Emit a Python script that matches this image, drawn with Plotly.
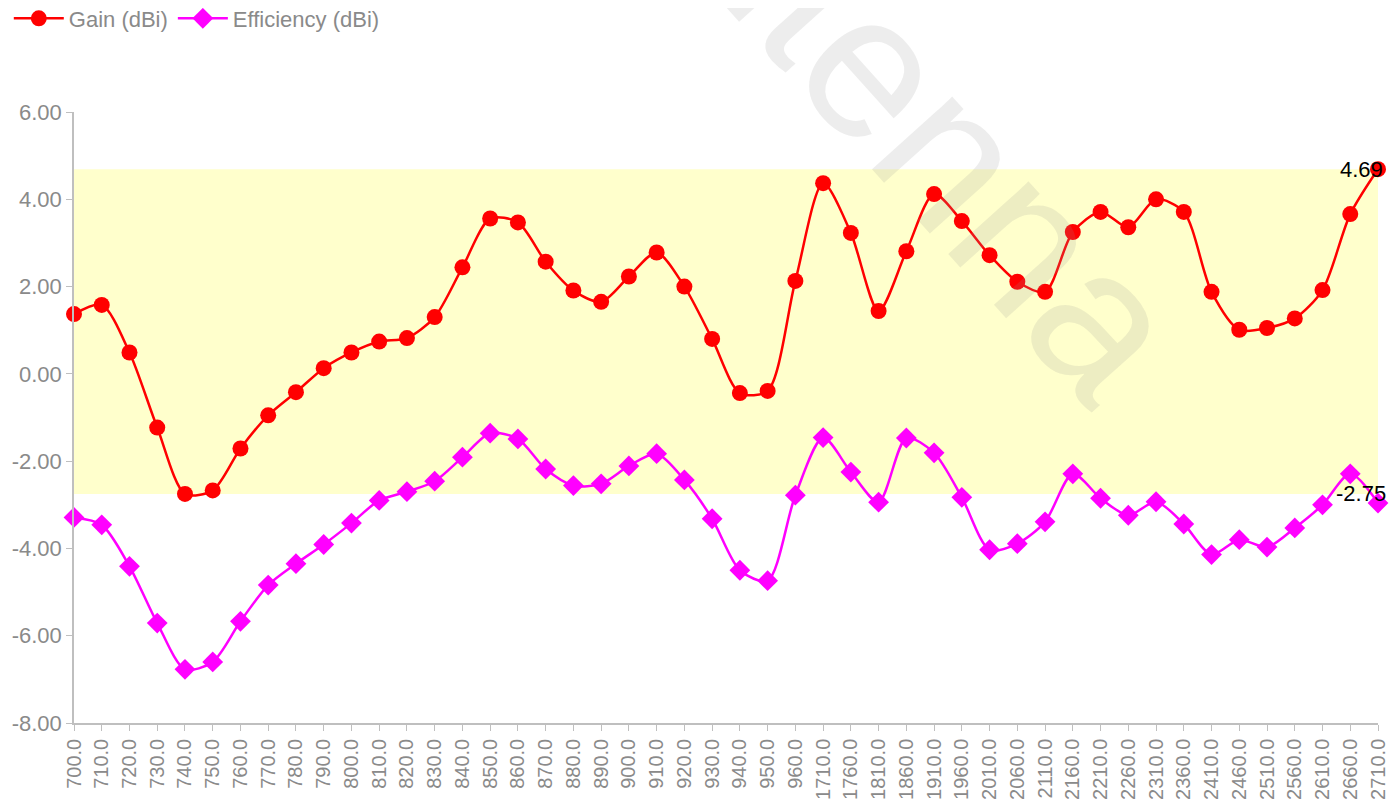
import plotly.graph_objects as go

# ---------------- data ----------------
freq_labels = ["700.0", "710.0", "720.0", "730.0", "740.0", "750.0", "760.0", "770.0",
               "780.0", "790.0", "800.0", "810.0", "820.0", "830.0", "840.0", "850.0",
               "860.0", "870.0", "880.0", "890.0", "900.0", "910.0", "920.0", "930.0",
               "940.0", "950.0", "960.0", "1710.0", "1760.0", "1810.0", "1860.0", "1910.0",
               "1960.0", "2010.0", "2060.0", "2110.0", "2160.0", "2210.0", "2260.0", "2310.0",
               "2360.0", "2410.0", "2460.0", "2510.0", "2560.0", "2610.0", "2660.0", "2710.0"]

gain = [1.37, 1.58, 0.49, -1.23, -2.75, -2.67, -1.71, -0.95, -0.42, 0.13, 0.49, 0.74,
        0.82, 1.30, 2.44, 3.56, 3.47, 2.57, 1.91, 1.65, 2.23, 2.78, 2.00, 0.80,
        -0.44, -0.39, 2.13, 4.37, 3.23, 1.44, 2.81, 4.12, 3.50, 2.72, 2.11, 1.88,
        3.25, 3.71, 3.36, 4.00, 3.71, 1.88, 1.01, 1.05, 1.27, 1.92, 3.66, 4.69]

efficiency = [-3.29, -3.46, -4.41, -5.71, -6.77, -6.60, -5.67, -4.84, -4.35, -3.91, -3.42, -2.90,
              -2.70, -2.46, -1.91, -1.36, -1.49, -2.18, -2.56, -2.52, -2.11, -1.83, -2.43, -3.32,
              -4.50, -4.74, -2.78, -1.46, -2.25, -2.94, -1.47, -1.81, -2.83, -4.03, -3.89, -3.39,
              -2.29, -2.85, -3.24, -2.93, -3.44, -4.14, -3.80, -3.97, -3.53, -3.00, -2.29, -2.96]

band_low = -2.75
band_high = 4.69

y_ticks = [-8, -6, -4, -2, 0, 2, 4, 6]
y_tick_text = [f"{v:.2f}" for v in y_ticks]

# ---------------- figure ----------------
FONT = "Liberation Sans, Arial, sans-serif"
GRAY = "#8a8a8a"

fig = go.Figure()

# yellow band (min..max of gain)
fig.add_trace(go.Scatter(x=freq_labels, y=[band_low] * len(freq_labels), mode="lines",
                         line=dict(width=0, color="rgba(0,0,0,0)"), showlegend=False,
                         hoverinfo="skip"))
fig.add_trace(go.Scatter(x=freq_labels, y=[band_high] * len(freq_labels), mode="lines",
                         line=dict(width=0, color="rgba(0,0,0,0)"), fill="tonexty",
                         fillcolor="#FFFFCC", showlegend=False, hoverinfo="skip"))

fig.add_trace(go.Scatter(x=freq_labels, y=gain, name="Gain (dBi)", mode="lines+markers",
                         line=dict(color="#FF0000", width=2.5, shape="spline", smoothing=0.8),
                         marker=dict(symbol="circle", size=16, color="#FF0000"),
                         cliponaxis=False))
fig.add_trace(go.Scatter(x=freq_labels, y=efficiency, name="Efficiency (dBi)", mode="lines+markers",
                         line=dict(color="#FF00FF", width=2.5, shape="spline", smoothing=0.8),
                         marker=dict(symbol="diamond", size=16, color="#FF00FF"),
                         cliponaxis=False))

# band value labels at the last category
for v in (band_high, band_low):
    fig.add_annotation(xref="paper", x=1.0, yref="y", y=v, text=f"{v:.2f}", showarrow=False,
                       xanchor="center", yanchor="middle", xshift=-17,
                       font=dict(family=FONT, size=22, color="#000000"))

# watermark
fig.add_annotation(xref="paper", yref="paper", x=0.625, y=1.05, text="Antenna",
                   showarrow=False, textangle=48, xanchor="center", yanchor="middle",
                   font=dict(family=FONT, size=205, color="rgba(150,150,150,0.17)"))

fig.update_layout(
    width=1391, height=793,
    template="none",
    paper_bgcolor="white", plot_bgcolor="white",
    margin=dict(l=66, r=21, t=104, b=78, autoexpand=False),
    font=dict(family=FONT, size=20, color=GRAY),
    showlegend=True,
    legend=dict(orientation="h", x=-0.05, xanchor="left", y=1.153, yanchor="middle",
                font=dict(family=FONT, size=22, color=GRAY), bgcolor="rgba(0,0,0,0)",
                itemwidth=50, traceorder="normal"),
    xaxis=dict(type="category", range=[0, len(freq_labels) - 1], showgrid=False, zeroline=False,
               showline=True, linecolor="#bfbfbf", linewidth=1.5, ticks="outside", ticklen=6,
               tickcolor="#bfbfbf", tickangle=-90, automargin=False,
               tickfont=dict(family=FONT, size=20, color=GRAY)),
    yaxis=dict(range=[-8, 6], tickvals=y_ticks, ticktext=y_tick_text, showgrid=False,
               zeroline=False, showline=True, linecolor="#bfbfbf", linewidth=1.5,
               ticks="outside", ticklen=6, tickcolor="#bfbfbf", automargin=False,
               tickfont=dict(family=FONT, size=22, color=GRAY)),
)

fig.write_html("out.html")
